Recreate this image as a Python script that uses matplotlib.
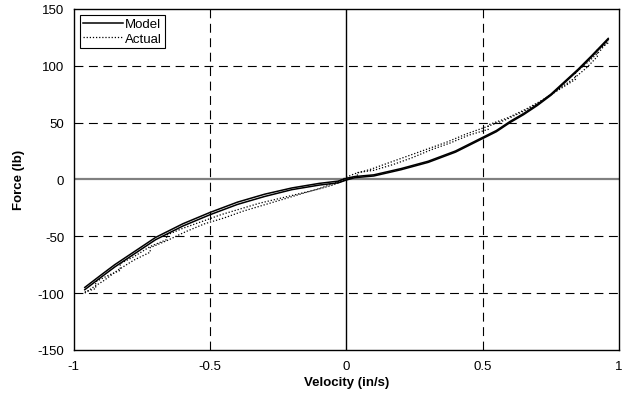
import matplotlib
matplotlib.use("Agg")
import matplotlib.pyplot as plt

plt.rcParams['font.family'] = ['Liberation Sans', 'DejaVu Sans']
plt.rcParams['axes.unicode_minus'] = False

# model: two close branches (hysteresis loop)
model_v = [-0.96, -0.9, -0.85, -0.8, -0.75, -0.7, -0.65, -0.6, -0.5, -0.4, -0.3, -0.2,
           -0.1, -0.03, 0.0, 0.03, 0.1, 0.2, 0.3, 0.4, 0.5, 0.55, 0.6, 0.65,
           0.7, 0.75, 0.8, 0.85, 0.9, 0.96]
model_up = [-95, -84, -75, -67, -59, -51, -45, -39, -29, -20, -13, -7.5,
            -3.5, -1.5, 1, 2.5, 4, 9.5, 16, 25, 37, 43, 51, 58,
            66, 75, 86, 97, 109, 124]
model_down = [-97, -86, -77, -69, -61, -53, -47, -41, -31, -22, -15, -9,
              -5, -3, -0.5, 1.5, 3, 8.5, 15, 24, 36, 42, 50, 57,
              65, 74, 85, 96, 108, 123]

# measured: small steps, increasing and decreasing velocity
act_v_up = [-0.96, -0.92, -0.92, -0.87, -0.83, -0.83, -0.78, -0.72, -0.66, -0.66,
            -0.6, -0.53, -0.46, -0.39, -0.32, -0.25, -0.18, -0.11, -0.05, 0.0,
            0.04, 0.04, 0.1, 0.17, 0.24, 0.31, 0.38, 0.45, 0.52, 0.52,
            0.59, 0.66, 0.72, 0.78, 0.84, 0.84, 0.89, 0.93, 0.96]
act_f_up = [-99, -96, -90, -84, -80, -74, -68, -59, -53, -49,
            -43, -37, -31, -26, -21, -17, -13, -9, -5, 0,
            3, 6, 8, 13, 19, 26, 32, 39, 44, 48,
            54, 62, 70, 79, 88, 94, 104, 113, 122]
act_v_dn = [0.96, 0.92, 0.92, 0.88, 0.83, 0.77, 0.71, 0.65, 0.58, 0.51,
            0.44, 0.37, 0.3, 0.23, 0.16, 0.09, 0.03, 0.0, -0.04, -0.1,
            -0.17, -0.24, -0.31, -0.38, -0.45, -0.52, -0.59, -0.66, -0.72, -0.72,
            -0.78, -0.84, -0.89, -0.93, -0.96]
act_f_dn = [120, 114, 108, 98, 88, 78, 68, 60, 52, 46,
            40, 33, 27, 21, 15, 9, 5, 2, -3, -8,
            -13, -18, -23, -28, -34, -39, -46, -54, -60, -64,
            -71, -80, -89, -95, -100]

fig = plt.figure(figsize=(6.26, 4.10), dpi=100)
ax = fig.add_axes([0.118, 0.144, 0.871, 0.832])

# grid
for g in [-0.5, 0.5]:
    ax.axvline(g, color='black', lw=0.8, ls=(0, (8, 5)), zorder=1)
for g in [-100, -50, 50, 100]:
    ax.axhline(g, color='black', lw=0.8, ls=(0, (8, 5)), zorder=1)
ax.axhline(0, color='#808080', lw=1.6, zorder=1)
ax.axvline(0, color='black', lw=1.0, zorder=1)

ax.plot(model_v, model_up, color='black', lw=1.1, label='Model', zorder=3)
ax.plot(model_v, model_down, color='black', lw=1.1, zorder=3)
ax.plot(act_v_up, act_f_up, color='black', lw=0.9, ls=(0, (1, 1.5)), label='Actual', zorder=2)
ax.plot(act_v_dn, act_f_dn, color='black', lw=0.9, ls=(0, (1, 1.5)), zorder=2)

ax.set_xlim(-1, 1)
ax.set_ylim(-150, 150)
ax.set_xticks([-1, -0.5, 0, 0.5, 1])
ax.set_xticklabels(['-1', '-0.5', '0', '0.5', '1'])
ax.set_yticks([-150, -100, -50, 0, 50, 100, 150])
ax.tick_params(length=0, labelsize=9.5, pad=7)
ax.set_xlabel('Velocity (in/s)', fontsize=9.5, fontweight='bold', labelpad=3)
ax.set_ylabel('Force (lb)', fontsize=9.5, fontweight='bold', labelpad=9)
for s in ax.spines.values():
    s.set_linewidth(1.0)

leg = ax.legend(loc='upper left', fontsize=9.5, frameon=True, fancybox=False,
                edgecolor='black', framealpha=1, borderpad=0.25, handlelength=3.0,
                handletextpad=0.2, labelspacing=0.15, borderaxespad=0.45)
leg.get_frame().set_linewidth(0.8)

fig.savefig('out.png', dpi=100)
